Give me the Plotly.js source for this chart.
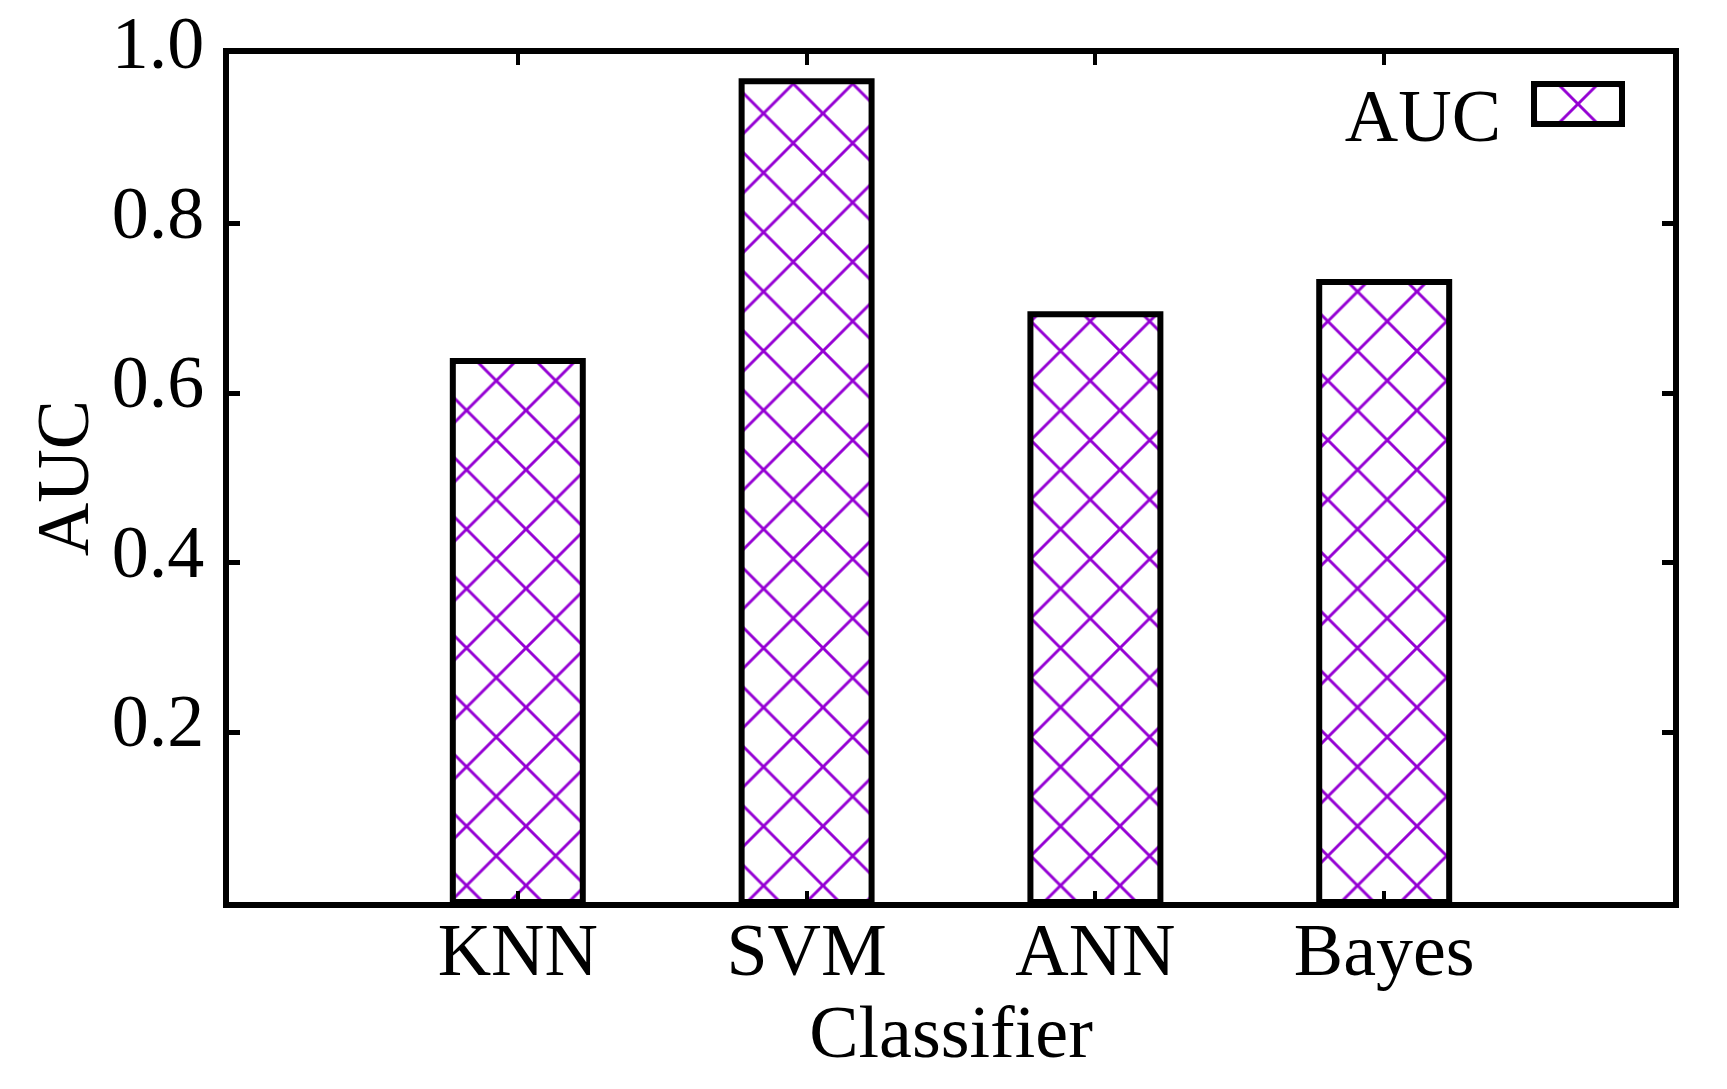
<!DOCTYPE html>
<html>
<head>
<meta charset="utf-8">
<script src="https://cdn.plot.ly/plotly-3.0.1.min.js"></script>
<style>
html,body{margin:0;padding:0;background:#ffffff;}
#chart{width:1727px;height:1089px;}
</style>
</head>
<body>
<div id="chart"></div>
<script>
// ---- data ----
const classifiers = ['KNN', 'SVM', 'ANN', 'Bayes'];
const aucValues = [0.638, 0.968, 0.693, 0.731];
const yTickVals = [0.2, 0.4, 0.6, 0.8, 1.0];
const yTickText = ['0.2', '0.4', '0.6', '0.8', '1.0'];
const seriesName = 'AUC';
const xTitle = 'Classifier';
const yTitle = 'AUC';

// ---- style ----
const FONT = '"Liberation Serif", "Times New Roman", serif';
const FS = 74;
const PURPLE = '#9400d3';

const trace = {
  type: 'bar',
  x: classifiers,
  y: aucValues,
  name: seriesName,
  width: 0.45,
  showlegend: true,
  marker: {
    color: 'white',
    line: {color: 'black', width: 6},
    pattern: {shape: 'x', fgcolor: PURPLE, bgcolor: 'white', size: 42, solidity: 0.135, fillmode: 'replace'}
  },
  hoverinfo: 'skip'
};

const axisCommon = {
  showline: true, linewidth: 6, linecolor: 'black', mirror: 'ticks',
  ticks: 'inside', ticklen: 11, tickcolor: 'black',
  showgrid: false, zeroline: false, automargin: false, fixedrange: true,
  tickfont: {family: FONT, size: FS, color: 'black'}
};

const layout = {
  width: 1727, height: 1089,
  margin: {l: 229, r: 54, t: 54, b: 187, pad: 0, autoexpand: false},
  paper_bgcolor: 'white', plot_bgcolor: 'white',
  font: {family: FONT, size: FS, color: 'black'},
  showlegend: true,
  xaxis: Object.assign({}, axisCommon, {
    type: 'category', range: [-1, 4], tickwidth: 4,
    ticklabelstandoff: -22,
    title: {text: xTitle, font: {family: FONT, size: FS, color: 'black'}, standoff: 8}
  }),
  yaxis: Object.assign({}, axisCommon, {
    range: [0, 1], tickmode: 'array', tickvals: yTickVals, ticktext: yTickText, tickwidth: 5,
    ticklabelshift: -12, ticklabelstandoff: 4,
    title: {text: yTitle, font: {family: FONT, size: FS, color: 'black'}, standoff: 1}
  }),
  legend: {x: 0.95, y: 0.98, xanchor: 'right', yanchor: 'top', bgcolor: 'rgba(0,0,0,0)', borderwidth: 0,
           font: {family: FONT, size: FS, color: 'black'}}
};

// legend key geometry (pixels) to mimic the original key: text left of a large swatch
const SWATCH_CX = 1578, SWATCH_CY = 104, TEXT_RIGHT = 1501, TEXT_BASELINE = 141;

function fixLegend() {
  const gd = document.getElementById('chart');
  const leg = gd.querySelector('g.legend');
  if (!leg) return;
  const bar = gd.querySelector('.barlayer .point path');
  const sym = leg.querySelector('.legendpoints path');
  const txt = leg.querySelector('text.legendtext');
  if (!bar || !sym || !txt) return;
  const sb = leg.querySelector('.scrollbox');
  if (sb) sb.removeAttribute('clip-path');
  sym.setAttribute('d', 'M44,20H-44V-20H44Z');
  sym.style.fill = bar.style.fill;
  sym.style.stroke = 'black';
  sym.style.strokeWidth = '6px';
  let r = sym.getBoundingClientRect();
  const dx = SWATCH_CX - (r.left + r.right) / 2;
  const dy = SWATCH_CY - (r.top + r.bottom) / 2;
  const m = /translate\(\s*([-\d.e]+)[ ,]+([-\d.e]+)\s*\)/.exec(leg.getAttribute('transform') || 'translate(0,0)');
  leg.setAttribute('transform', 'translate(' + (+m[1] + dx) + ',' + (+m[2] + dy) + ')');
  txt.setAttribute('text-anchor', 'end');
  let tr = txt.getBoundingClientRect();
  txt.setAttribute('x', (+txt.getAttribute('x')) + (TEXT_RIGHT - tr.right));
  tr = txt.getBoundingClientRect();
  txt.setAttribute('y', (+txt.getAttribute('y')) + (TEXT_BASELINE + 0.216 * FS - tr.bottom));
}

Plotly.newPlot('chart', [trace], layout, {staticPlot: true, displayModeBar: false}).then(fixLegend);
</script>
</body>
</html>
